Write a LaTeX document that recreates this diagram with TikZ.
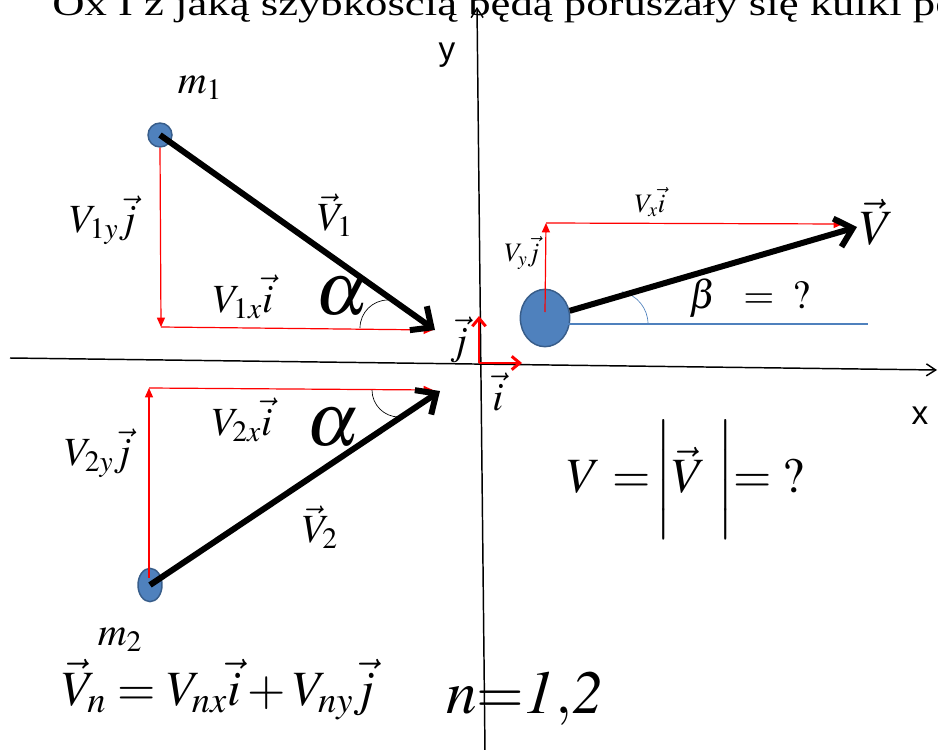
\documentclass[tikz,border=0pt]{standalone}
\usepackage{mathptmx}
\usepackage[no-math]{fontspec}
\setmainfont{Liberation Serif}
\setsansfont{Liberation Sans}
\usetikzlibrary{arrows.meta,positioning,shapes.geometric}
\definecolor{ballblue}{RGB}{79,129,189}
\definecolor{balledge}{RGB}{56,93,138}

\tikzset{
  ball/.style={ellipse,draw=balledge,fill=ballblue,line width=1.1pt,inner sep=0pt},
  vel/.style={line width=4.5pt,-{Straight Barb[length=12pt,width=22pt]}},
  comp/.style={red,line width=0.9pt,-{Triangle[length=7pt,width=6pt]}},
  unitvec/.style={red,line width=2.2pt,-{Straight Barb[length=6pt,width=10pt]}},
  axis/.style={line width=1.1pt,-{Straight Barb[length=7pt,width=9pt]}},
  anglearc/.style={line width=0.5pt},
  lab/.style={inner sep=0pt,font=\fontsize{30}{34}\selectfont},
  smalllab/.style={inner sep=0pt,font=\fontsize{20}{24}\selectfont},
  biglab/.style={inner sep=0pt,font=\fontsize{37}{42}\selectfont},
  alphalab/.style={inner sep=0pt,font=\fontsize{56}{60}\selectfont},
  axislab/.style={inner sep=0pt,font=\sffamily\fontsize{25}{28}\selectfont},
}

\begin{document}
\begin{tikzpicture}[x=0.75pt,y=-0.75pt]
\clip (0,0) rectangle (938,749);
% title line, cut at the top
\node[anchor=base west,inner sep=0pt,font=\fontsize{26}{30}\selectfont] (title) at (52,16) {\scalebox{1.29}[1]{Ox I z jaką szybkością będą poruszały się kulki po}};
% axes
\coordinate (xl) at (10,358);
\coordinate (xr) at (937,370);
\coordinate (yb) at (485,752);
\coordinate (yt) at (477,7);
\draw[axis] (xl) -- (xr);
\draw[axis] (yb) -- (yt);
\node[axislab] (ylab) at (447,55) {y};
\node[axislab] (xlab) at (920,416) {x};
% unit vectors
\coordinate (o) at (479,363);
\coordinate (ej) at (479,316);
\coordinate (ei) at (522,363);
\draw[unitvec] (o) -- (ej);
\draw[unitvec] (o) -- (ei);
\node[lab] (jlab) at (459,340) {$\vec{j}$};
\node[lab] (ilab) at (498,392) {$\vec{i}$};
% balls
\node[ball,minimum width=18pt,minimum height=18pt] (m1) at (160,135) {};
\node[ball,minimum width=18pt,minimum height=25pt] (m2) at (150,585) {};
\node[ball,minimum width=37pt,minimum height=43pt] (m) at (545,318) {};
\node[lab] (m1lab) at (200,88) {$m_1$};
\node[lab] (m2lab) at (120,640) {$m_2$};
% first ball
\coordinate (t1) at (435,330);
\coordinate (c1) at (161,327);
\coordinate (h1) at (433,330);
\draw[comp] (m1.south) -- (c1);
\draw[comp] (c1) -- (h1);
\draw[vel] (m1.center) -- (t1);
\draw[anglearc] (t1) ++(-75,-2) arc[start angle=180,end angle=270,radius=28];
\node[lab] (v1y) at (103,220) {$V_{1y}\vec{j}$};
\node[lab] (v1) at (335,215) {$\vec{V}_1$};
\node[lab] (v1x) at (243,297) {$V_{1x}\vec{i}$};
\node[alphalab] (a1) at (342,297) {$\alpha$};
% second ball
\coordinate (t2) at (440,391);
\coordinate (m2v) at (149,578);
\coordinate (c2) at (149,388);
\coordinate (h2) at (433,390);
\draw[comp] (m2v) -- (c2);
\draw[comp] (c2) -- (h2);
\draw[vel] (m2.center) -- (t2);
\draw[anglearc] (t2) ++(-68,-1) arc[start angle=180,end angle=90,radius=27];
\node[lab] (v2y) at (98,453) {$V_{2y}\vec{j}$};
\node[lab] (v2x) at (242,420) {$V_{2x}\vec{i}$};
\node[alphalab] (a2) at (333,428) {$\alpha$};
\node[lab] (v2) at (320,527) {$\vec{V}_2$};
% after the collision
\coordinate (tv) at (857,227);
\coordinate (mv) at (545,312);
\coordinate (cv) at (546,223);
\coordinate (hv) at (843,224);
\coordinate (b0) at (547,324);
\coordinate (b1) at (868,324);
\draw[ballblue,line width=1pt] (b0) -- (b1);
\draw[ballblue,anglearc] (b0) ++(101,0) arc[start angle=0,end angle=-78,radius=33];
\draw[comp] (mv) -- (cv);
\draw[comp] (cv) -- (hv);
\draw[vel] (m) -- (tv);
\node[smalllab] (vyl) at (522,253) {$V_y\vec{j}$};
\node[smalllab] (vxl) at (650,202) {$V_x\vec{i}$};
\node[biglab] (vlab) at (877,222) {$\vec{V}$};
\node[lab] (beta) at (750,298) {$\beta\;\;=\;\;?$};
\node[biglab] (vmag) at (686,480) {$V\;{=}\,\bigg|\vec{V}\,\,\bigg|{=}\;?$};
% formulas at the bottom
\node[biglab,anchor=base west] (vn) at (62,705) {$\vec{V}_n=V_{nx}\vec{i}+V_{ny}\vec{j}$};
\node[anchor=base west,inner sep=0pt,font=\fontsize{46}{50}\selectfont] (nn) at (446,713) {$\mathit{n}{=}\mathit{1{,}2}$};
\end{tikzpicture}
\end{document}
